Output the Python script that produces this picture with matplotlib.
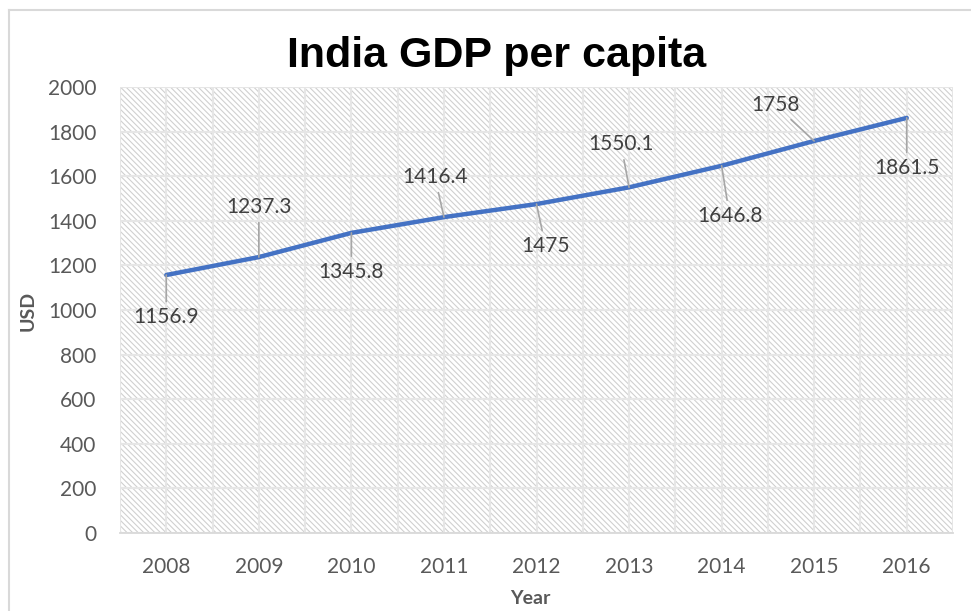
import numpy as np
import matplotlib
matplotlib.use("Agg")
from matplotlib import pyplot as plt
from matplotlib.patches import Rectangle
from matplotlib.lines import Line2D

years = ["2008", "2009", "2010", "2011", "2012", "2013", "2014", "2015", "2016"]
gdp = [1156.9, 1237.3, 1345.8, 1416.4, 1475, 1550.1, 1646.8, 1758, 1861.5]
# where each value label sits relative to its point (pixels)
label_offsets = [(0, -42), (0, 50), (0, -39), (-9, 40), (9, -42),
                 (-8, 43), (8, -50), (-39, 36), (0, -50)]
yticks = list(range(0, 2001, 200))

W, H = 971, 611
fig = plt.figure(figsize=(W / 100, H / 100), dpi=100)
fig.patch.set_facecolor("white")

# light frame around the chart
fig.add_artist(Line2D([9 / W, 1], [1 - 10 / H, 1 - 10 / H], color="#d9d9d9", lw=1.5))
fig.add_artist(Line2D([9 / W, 9 / W], [0, 1 - 10 / H], color="#d9d9d9", lw=1.5))

ax = fig.add_axes([120 / W, 78 / H, 833 / W, 446 / H])
x = np.arange(len(years))

# hatched plot area
plt.rcParams["hatch.linewidth"] = 0.8
ax.add_patch(Rectangle((0, 0), 1, 1, transform=ax.transAxes, facecolor="white",
                       edgecolor="#d0d0d0", hatch="\\" * 6, lw=0, zorder=0))

ax.set_xlim(-0.5, len(years) - 0.5)
ax.set_ylim(0, 2000)
ax.set_xticks(x)
ax.set_xticklabels(years)
ax.set_xticks(np.arange(-0.5, len(years), 1), minor=True)
ax.set_yticks(yticks)
ax.grid(which="both", axis="x", color="#e6e6e6", lw=1.5, zorder=1)
ax.grid(which="major", axis="y", color="#e6e6e6", lw=1.5, zorder=1)
ax.set_axisbelow(True)
for s in ["top", "right", "left"]:
    ax.spines[s].set_visible(False)
ax.spines["bottom"].set_color("#d9d9d9")
ax.spines["bottom"].set_linewidth(1.3)
ax.tick_params(which="both", length=0, labelsize=15, labelcolor="#595959")
ax.tick_params(axis="x", pad=17)
ax.tick_params(axis="y", pad=17)
for lab in ax.get_xticklabels() + ax.get_yticklabels():
    lab.set_fontfamily("Lato")

ax.plot(x, gdp, color="#4472c4", lw=3.2, solid_capstyle="round", zorder=3)

for xi, v, off in zip(x, gdp, label_offsets):
    ax.annotate(f"{v:g}", xy=(xi, v), xytext=off, textcoords="offset pixels",
                ha="center", va="center", fontsize=15, color="#404040",
                family="Lato", zorder=4,
                arrowprops=dict(arrowstyle="-", color="#a6a6a6", lw=1.2,
                                shrinkA=2, shrinkB=0))

ax.set_ylabel("USD", fontsize=14, fontweight="bold", color="#595959", family="Lato")
ax.set_xlabel("Year", fontsize=14, fontweight="bold", color="#595959", family="Lato")
ax.yaxis.set_label_coords((28 - 120) / 833, (533 - 311) / 446)
ax.xaxis.set_label_coords((530 - 120) / 833, (533 - 598) / 446)
ax.yaxis.label.set_va("center")
ax.xaxis.label.set_va("center")
fig.text(497 / W, 1 - 56 / H, "India GDP per capita", ha="center", va="center",
         fontsize=31, fontweight="bold", family="Liberation Sans", color="black")

fig.savefig("out.png", dpi=100)
